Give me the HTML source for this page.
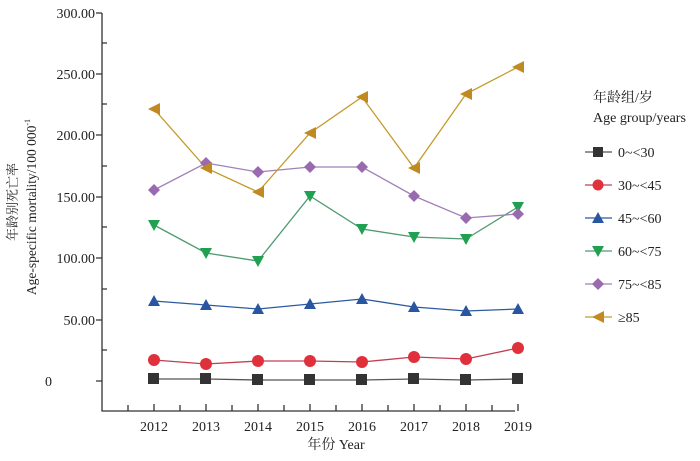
<!DOCTYPE html><html><head><meta charset="utf-8"><style>body{margin:0;background:#fff}svg text{font-family:"Liberation Serif","Noto Serif CJK SC",serif;fill:#222}</style></head><body>
<svg width="700" height="456" xmlns="http://www.w3.org/2000/svg">
<g stroke="#333" stroke-width="1.3" fill="none">
<path d="M102 13V411H515"/>
<path d="M96 13H102M96 74H102M96 135H102M96 197H102M96 258H102M96 320H102M96 381H102"/>
<path d="M102 43H107M102 104H107M102 166H107M102 227H107M102 289H107M102 350H107"/>
<path d="M128 411V405M154 411V404M180 411V405M206 411V404M232 411V405M258 411V404M284 411V405M310 411V404M336 411V405M362 411V404M388 411V405M414 411V404M440 411V405M466 411V404M492 411V405M518 411V404"/>
</g>
<g font-size="14" text-anchor="end">
<text x="95" y="18">300.00</text><text x="95" y="79">250.00</text><text x="95" y="140">200.00</text><text x="95" y="202">150.00</text><text x="95" y="263">100.00</text><text x="95" y="325">50.00</text><text x="52" y="386">0</text>
</g>
<g font-size="14" text-anchor="middle">
<text x="154" y="431">2012</text><text x="206" y="431">2013</text><text x="258" y="431">2014</text><text x="310" y="431">2015</text><text x="362" y="431">2016</text><text x="414" y="431">2017</text><text x="466" y="431">2018</text><text x="518" y="431">2019</text>
<text x="336" y="449">年份 Year</text>
</g>
<text transform="translate(17 202) rotate(-90)" font-size="13" text-anchor="middle">年龄别死亡率</text>
<text transform="translate(36 207) rotate(-90)" font-size="13.5" text-anchor="middle">Age-specific mortality/100 000<tspan font-size="8" dy="-6">-1</tspan></text>
<g fill="none" stroke-width="1.3">
<polyline stroke="#555" points="154,379 206,379 258,380 310,380 362,380 414,379 466,380 518,379"/>
<polyline stroke="#c04050" points="154,360 206,364 258,361 310,361 362,362 414,357 466,359 518,348"/>
<polyline stroke="#2c5aa0" points="154,301 206,305 258,309 310,304 362,299 414,307 466,311 518,309"/>
<polyline stroke="#4f9a70" points="154,225 206,253 258,261 310,196 362,229 414,237 466,239 518,207"/>
<polyline stroke="#a080b8" points="154,190 206,163 258,172 310,167 362,167 414,196 466,218 518,214"/>
<polyline stroke="#c49a2a" points="154,109 206,168 258,192 310,133 362,97 414,168 466,94 518,67"/>
</g>
<g fill="#333"><rect x="148" y="373" width="11" height="11"/><rect x="200" y="373" width="11" height="11"/><rect x="252" y="374" width="11" height="11"/><rect x="304" y="374" width="11" height="11"/><rect x="356" y="374" width="11" height="11"/><rect x="408" y="373" width="11" height="11"/><rect x="460" y="374" width="11" height="11"/><rect x="512" y="373" width="11" height="11"/></g>
<g fill="#e0303c"><circle cx="154" cy="360" r="6"/><circle cx="206" cy="364" r="6"/><circle cx="258" cy="361" r="6"/><circle cx="310" cy="361" r="6"/><circle cx="362" cy="362" r="6"/><circle cx="414" cy="357" r="6"/><circle cx="466" cy="359" r="6"/><circle cx="518" cy="348" r="6"/></g>
<g fill="#2a55a0"><path d="M148 306h12l-6-11z"/><path d="M200 310h12l-6-11z"/><path d="M252 314h12l-6-11z"/><path d="M304 309h12l-6-11z"/><path d="M356 304h12l-6-11z"/><path d="M408 312h12l-6-11z"/><path d="M460 316h12l-6-11z"/><path d="M512 314h12l-6-11z"/></g>
<g fill="#20a050"><path d="M148 220h12l-6 11z"/><path d="M200 248h12l-6 11z"/><path d="M252 256h12l-6 11z"/><path d="M304 191h12l-6 11z"/><path d="M356 224h12l-6 11z"/><path d="M408 232h12l-6 11z"/><path d="M460 234h12l-6 11z"/><path d="M512 202h12l-6 11z"/></g>
<g fill="#9a6ab0"><path d="M154 184l6 6-6 6-6-6z"/><path d="M206 157l6 6-6 6-6-6z"/><path d="M258 166l6 6-6 6-6-6z"/><path d="M310 161l6 6-6 6-6-6z"/><path d="M362 161l6 6-6 6-6-6z"/><path d="M414 190l6 6-6 6-6-6z"/><path d="M466 212l6 6-6 6-6-6z"/><path d="M518 208l6 6-6 6-6-6z"/></g>
<g fill="#c08a20"><path d="M148 109l12-6v12z"/><path d="M200 168l12-6v12z"/><path d="M252 192l12-6v12z"/><path d="M304 133l12-6v12z"/><path d="M356 97l12-6v12z"/><path d="M408 168l12-6v12z"/><path d="M460 94l12-6v12z"/><path d="M512 67l12-6v12z"/></g>
<text x="593" y="102" font-size="14">年龄组/岁</text>
<text x="593" y="122" font-size="14">Age group/years</text>
<g stroke-width="1.3">
<line x1="585" y1="152" x2="612" y2="152" stroke="#555"/><rect x="593" y="147" width="10" height="10" fill="#333"/>
<line x1="585" y1="185" x2="612" y2="185" stroke="#c04050"/><circle cx="598" cy="185" r="5.5" fill="#e0303c"/>
<line x1="585" y1="218" x2="612" y2="218" stroke="#2c5aa0"/><path d="M592 223h12l-6-11z" fill="#2a55a0"/>
<line x1="585" y1="251" x2="612" y2="251" stroke="#4f9a70"/><path d="M592 246h12l-6 11z" fill="#20a050"/>
<line x1="585" y1="284" x2="612" y2="284" stroke="#a080b8"/><path d="M598 278l6 6-6 6-6-6z" fill="#9a6ab0"/>
<line x1="585" y1="317" x2="612" y2="317" stroke="#c49a2a"/><path d="M592 317l12-6v12z" fill="#c08a20"/>
</g>
<g font-size="14"><text x="618" y="157">0~&lt;30</text><text x="618" y="190">30~&lt;45</text><text x="618" y="223">45~&lt;60</text><text x="618" y="256">60~&lt;75</text><text x="618" y="289">75~&lt;85</text><text x="618" y="322">≥85</text></g>
</svg></body></html>
